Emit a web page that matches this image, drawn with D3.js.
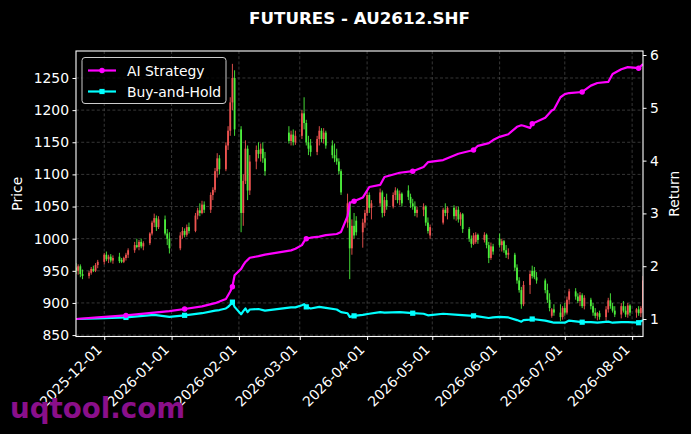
<!DOCTYPE html>
<html><head><meta charset="utf-8">
<script src="https://cdn.jsdelivr.net/npm/d3@7"></script>
<style>body{margin:0;background:#000}svg{display:block}</style>
</head><body><svg id="c" width="691" height="434"></svg>
<script>
// ---------- DATA ----------
const chartTitle = "FUTURES - AU2612.SHF";
const startDate = "2025-11-18", endDate = "2026-08-06";
const holidays = ["2026-01-01","2026-01-02","2026-02-16","2026-02-17","2026-02-18","2026-02-19","2026-02-20","2026-02-23","2026-04-06","2026-05-01","2026-05-04","2026-05-05","2026-06-19"];

const open = [
955,950,957,945, 942,947,953,950,959,
964,975,968,972,966, 972,967,964,970,975, 982,990,987,995,988, 993,1008,1025,1032,1018, 1030,1008,1000,
985,1005,1012,1006,1018, 1012,1036,1044,1040,1053, 1045,1068,1076,1105,1125, 1108,1145,1168,1212,1250,
1170,1040,1090,1140,1075, 1120,1138,1132,1140,1125, 1165,1152,1162,1150,
1160,1195,1180,1150,1145, 1135,1155,1168,1155,1165, 1145,1130,1125,1120,1105, 1025,1055,985,1020,1028, 1010,1025,
1040,1068,1048, 1055,1072,1040,1060, 1050,1068,1075,1060,1070, 1075,1065,1055,1050,1040, 1045,1050,1025,1005,
1025,1045,1040, 1048,1035,1045,1030,1038, 1015,1000,992,995,1006, 998,1006,990,970,988,
1000,990,996,982,975, 975,955,935,920,898, 928,950,950,940, 935,920,905,880,890, 885,878,
892,885,905, 918,910,903,912,895, 905,895,885,880,884, 878,890,904,895,888, 882,895,888,882,896,
885,890,884,892];
const high = [
962,960,960,952, 950,956,958,962,967,
978,980,975,976,974, 978,970,972,978,985, 995,1000,998,1000,996, 1010,1028,1039,1036,1035, 1036,1015,1010,
1010,1018,1016,1022,1025, 1040,1048,1055,1059,1058, 1072,1080,1110,1133,1130, 1150,1175,1220,1272,1262,
1175,1100,1153,1145,1130, 1145,1150,1148,1150,1135, 1175,1168,1170,1168,
1200,1220,1185,1160,1155, 1160,1175,1172,1172,1168, 1153,1148,1140,1125,1108, 1070,1058,1030,1040,1035, 1031,1045,
1075,1072,1060, 1078,1075,1065,1070, 1072,1080,1078,1075,1072, 1083,1070,1062,1058,1050, 1055,1052,1033,1022,
1048,1055,1050, 1052,1050,1050,1041,1040, 1018,1005,1009,1010,1008, 1010,1008,995,994,992,
1008,1000,998,990,985, 978,960,940,925,934, 950,958,956,948, 938,930,915,892,898, 898,895,
900,910,922, 923,915,917,915,912, 908,900,892,886,888, 895,908,915,900,895, 900,903,895,900,898,
892,895,895,942];
const low = [
945,944,940,937, 938,944,948,948,954,
960,965,962,963,961, 962,962,962,966,970, 978,985,982,985,982, 990,1005,1018,1012,1015, 1005,990,977,
982,1000,1002,1003,1008, 1010,1030,1035,1038,1040, 1040,1060,1072,1095,1100, 1105,1138,1160,1200,1160,
1010,1020,1085,1060,1068, 1108,1125,1120,1118,1098, 1148,1145,1145,1146,
1155,1170,1145,1130,1128, 1130,1145,1150,1148,1140, 1125,1119,1115,1100,1068, 1017,937,975,1000,1005, 986,1017,
1035,1040,1030, 1050,1033,1035,1045, 1047,1060,1055,1052,1050, 1060,1048,1045,1035,1033, 1035,1020,1008,1000,
1022,1035,1030, 1030,1028,1025,1020,1009, 995,986,990,992,992, 994,985,962,967,975,
986,980,978,970,968, 950,930,916,891,895, 914,938,937,930, 915,900,887,877,880, 872,874,
880,882,898, 905,900,895,892,890, 890,880,876,873,874, 872,885,891,885,878, 876,885,878,877,880,
877,880,878,885];
const close = [
950,957,945,942, 947,953,950,959,964,
975,968,972,966,970, 965,964,970,975,982, 990,987,995,988,993, 1008,1025,1032,1018,1030, 1008,1000,985,
1005,1012,1006,1018,1012, 1036,1044,1040,1053,1045, 1068,1076,1105,1125,1108, 1145,1168,1212,1250,1170,
1040,1090,1140,1075,1120, 1138,1132,1140,1125,1105, 1152,1162,1150,1160,
1195,1180,1150,1140,1135, 1155,1168,1155,1165,1145, 1130,1125,1120,1105,1072, 1055,985,1020,1005,1010, 1025,1040,
1068,1048,1055, 1072,1040,1060,1050, 1068,1075,1060,1070,1055, 1065,1055,1050,1040,1045, 1050,1025,1012,1018,
1045,1040,1048, 1035,1045,1030,1038,1015, 1000,992,1005,1006,998, 1006,990,970,988,980,
990,996,982,975,978, 955,935,920,898,928, 945,942,940,935, 920,905,892,890,885, 878,892,
885,905,918, 910,903,912,895,908, 895,885,880,884,878, 890,904,895,888,882, 895,888,882,896,885,
890,884,892,935];

const lineDates = ["2025-11-18","2025-11-28","2025-12-11","2025-12-24","2025-12-31","2026-01-07","2026-01-15","2026-01-21","2026-01-23","2026-01-26","2026-01-27","2026-01-28","2026-01-29","2026-01-30","2026-02-02","2026-02-03","2026-02-04","2026-02-05","2026-02-06","2026-02-10","2026-02-13","2026-02-25","2026-02-27","2026-03-02","2026-03-03","2026-03-04","2026-03-06","2026-03-10","2026-03-13","2026-03-18","2026-03-20","2026-03-23","2026-03-24","2026-03-26","2026-03-30","2026-04-02","2026-04-07","2026-04-09","2026-04-16","2026-04-22","2026-04-27","2026-04-29","2026-05-06","2026-05-13","2026-05-20","2026-05-22","2026-05-27","2026-05-29","2026-06-01","2026-06-05","2026-06-09","2026-06-11","2026-06-12","2026-06-15","2026-06-16","2026-06-22","2026-06-25","2026-06-26","2026-06-29","2026-07-01","2026-07-03","2026-07-09","2026-07-13","2026-07-16","2026-07-21","2026-07-23","2026-07-27","2026-07-30","2026-08-04","2026-08-06"];
const aiReturn = [1.00,1.03,1.07,1.12,1.15,1.19,1.24,1.30,1.33,1.38,1.45,1.52,1.61,1.83,1.95,2.02,2.08,2.12,2.16,2.19,2.22,2.30,2.33,2.40,2.47,2.52,2.54,2.56,2.59,2.61,2.65,2.95,3.20,3.23,3.30,3.50,3.54,3.69,3.77,3.80,3.88,3.97,4.01,4.13,4.20,4.28,4.33,4.39,4.45,4.50,4.64,4.67,4.66,4.62,4.70,4.81,4.95,4.97,5.20,5.26,5.28,5.30,5.42,5.47,5.49,5.64,5.73,5.77,5.75,5.83];
const bhReturn = [1.00,1.01,1.03,1.08,1.04,1.07,1.11,1.16,1.17,1.20,1.23,1.27,1.32,1.23,1.09,1.15,1.20,1.13,1.18,1.19,1.16,1.22,1.22,1.26,1.28,1.23,1.20,1.23,1.21,1.18,1.13,1.11,1.04,1.06,1.08,1.10,1.13,1.12,1.13,1.11,1.10,1.07,1.10,1.08,1.06,1.05,1.02,1.03,1.04,1.03,0.98,0.95,0.98,0.99,1.00,0.97,0.94,0.93,0.93,0.93,0.97,0.94,0.94,0.93,0.95,0.93,0.94,0.94,0.93,0.98];
const markerDates = ["2025-12-11","2026-01-07","2026-01-29","2026-03-04","2026-03-26","2026-04-22","2026-05-20","2026-06-16","2026-07-09","2026-08-04"];

const xTickLabels = ["2025-12-01","2026-01-01","2026-02-01","2026-03-01","2026-04-01","2026-05-01","2026-06-01","2026-07-01","2026-08-01"];
const priceTicks = [850,900,950,1000,1050,1100,1150,1200,1250];
const returnTicks = [1,2,3,4,5,6];
const seriesNames = ["AI Strategy","Buy-and-Hold"];

// ---------- LAYOUT ----------
const L = 76, R = 643, T = 51, B = 336.5;
const FONT = "DejaVu Sans";
const C_UP = "#ef5350", C_DN = "#4cef3c", C_AI = "#ff00ff", C_BH = "#00ffff";

const parse = d3.utcParse("%Y-%m-%d"), fmt = d3.utcFormat("%Y-%m-%d");
const days = d3.utcDay.range(parse(startDate), d3.utcDay.offset(parse(endDate), 1))
  .filter(d => d.getUTCDay() % 6 !== 0 && !holidays.includes(fmt(d)));
const candles = days.map((d, i) => ({d, o: open[i], h: high[i], l: low[i], c: close[i]}));

const x = d3.scaleUtc().domain([parse(startDate), parse(endDate)]).range([L, R]);
const yP = d3.scaleLinear().domain([847.8, 1292]).range([B, T]);
const yR = d3.scaleLinear().domain([0.669, 6.076]).range([B, T]);

const svg = d3.select("#c");
svg.append("rect").attr("width", 691).attr("height", 434).attr("fill", "#000");
svg.append("defs").append("clipPath").attr("id", "clip")
  .append("rect").attr("x", L).attr("y", T).attr("width", R - L).attr("height", B - T);

// grid
const grid = svg.append("g").attr("stroke", "#5a5a5a").attr("stroke-width", 0.6).attr("stroke-dasharray", "3,2.2");
xTickLabels.forEach(t => grid.append("line").attr("x1", x(parse(t))).attr("x2", x(parse(t))).attr("y1", T).attr("y2", B));
priceTicks.forEach(t => grid.append("line").attr("x1", L).attr("x2", R).attr("y1", yP(t)).attr("y2", yP(t)));

// candles
const cg = svg.append("g").attr("clip-path", "url(#clip)");
cg.selectAll("line.w").data(candles).join("line")
  .attr("x1", d => x(d.d)).attr("x2", d => x(d.d))
  .attr("y1", d => yP(d.h)).attr("y2", d => yP(d.l))
  .attr("stroke", d => d.c >= d.o ? C_UP : C_DN).attr("stroke-width", 0.9);
cg.selectAll("rect.b").data(candles).join("rect")
  .attr("x", d => x(d.d) - 0.9).attr("width", 1.8)
  .attr("y", d => yP(Math.max(d.o, d.c)))
  .attr("height", d => Math.max(0.8, Math.abs(yP(d.o) - yP(d.c))))
  .attr("fill", d => d.c >= d.o ? C_UP : C_DN);

// return lines
const pts = lineDates.map((s, i) => ({d: parse(s), s, ai: aiReturn[i], bh: bhReturn[i]}));
const lg = svg.append("g").attr("clip-path", "url(#clip)");
lg.append("path").datum(pts).attr("fill", "none").attr("stroke", C_BH).attr("stroke-width", 2.2)
  .attr("stroke-linejoin", "round").attr("d", d3.line().x(p => x(p.d)).y(p => yR(p.bh)));
lg.append("path").datum(pts).attr("fill", "none").attr("stroke", C_AI).attr("stroke-width", 2.2)
  .attr("stroke-linejoin", "round").attr("d", d3.line().x(p => x(p.d)).y(p => yR(p.ai)));
const mk = pts.filter(p => markerDates.includes(p.s));
lg.selectAll("rect.m").data(mk).join("rect").attr("x", p => x(p.d) - 2.6).attr("y", p => yR(p.bh) - 2.6)
  .attr("width", 5.2).attr("height", 5.2).attr("fill", C_BH);
lg.selectAll("circle.m").data(mk).join("circle").attr("cx", p => x(p.d)).attr("cy", p => yR(p.ai))
  .attr("r", 2.7).attr("fill", C_AI);

// frame
svg.append("rect").attr("x", L).attr("y", T).attr("width", R - L).attr("height", B - T)
  .attr("fill", "none").attr("stroke", "#fff").attr("stroke-width", 1.1);

// axes
const txt = (g) => g.attr("font-family", FONT).attr("font-size", 13.9).attr("fill", "#fff");
const xa = svg.append("g").attr("transform", `translate(0,${B})`)
  .call(d3.axisBottom(x).tickValues(xTickLabels.map(parse)).tickFormat(fmt).tickSize(3.5).tickPadding(3.5));
xa.select(".domain").remove();
xa.selectAll(".tick line").attr("stroke", "#fff");
xa.selectAll(".tick text").call(txt).attr("text-anchor", "end").attr("dy", null).attr("y", null)
  .attr("transform", "translate(-2,14) rotate(-45)");

const ya = svg.append("g").attr("transform", `translate(${L},0)`)
  .call(d3.axisLeft(yP).tickValues(priceTicks).tickFormat(d3.format("d")).tickSize(3.5).tickPadding(3.5));
ya.select(".domain").remove();
ya.selectAll(".tick line").attr("stroke", "#fff");
ya.selectAll(".tick text").call(txt);

const ra = svg.append("g").attr("transform", `translate(${R},0)`)
  .call(d3.axisRight(yR).tickValues(returnTicks).tickFormat(d3.format("d")).tickSize(3.5).tickPadding(3.5));
ra.select(".domain").remove();
ra.selectAll(".tick line").attr("stroke", "#fff");
ra.selectAll(".tick text").call(txt);

// labels
svg.append("text").attr("x", (L + R) / 2).attr("y", 24).attr("text-anchor", "middle")
  .attr("font-family", FONT).attr("font-size", 16.7).attr("font-weight", "bold").attr("fill", "#fff").text(chartTitle);
svg.append("text").attr("transform", `translate(22,${(T + B) / 2}) rotate(-90)`).attr("text-anchor", "middle")
  .call(txt).text("Price");
svg.append("text").attr("transform", `translate(679,${(T + B) / 2}) rotate(-90)`).attr("text-anchor", "middle")
  .call(txt).text("Return");

// legend
const lgd = svg.append("g");
lgd.append("rect").attr("x", 82).attr("y", 57.5).attr("width", 144).attr("height", 46).attr("rx", 3)
  .attr("fill", "#000").attr("fill-opacity", 0.8).attr("stroke", "#cccccc").attr("stroke-width", 1);
[[C_AI, "circle"], [C_BH, "square"]].forEach(([col, shape], i) => {
  const yy = 70.5 + i * 21;
  lgd.append("line").attr("x1", 88).attr("x2", 116).attr("y1", yy).attr("y2", yy).attr("stroke", col).attr("stroke-width", 2.2);
  if (shape === "circle") lgd.append("circle").attr("cx", 102).attr("cy", yy).attr("r", 2.7).attr("fill", col);
  else lgd.append("rect").attr("x", 99.4).attr("y", yy - 2.6).attr("width", 5.2).attr("height", 5.2).attr("fill", col);
  lgd.append("text").attr("x", 127).attr("y", yy + 5).call(txt).text(seriesNames[i]);
});

// watermark
svg.append("text").attr("x", 10).attr("y", 418).attr("font-family", FONT).attr("font-size", 27.7)
  .attr("font-weight", "bold").attr("fill", "#8a0f8a").text("uqtool.com");
</script>
</body></html>
